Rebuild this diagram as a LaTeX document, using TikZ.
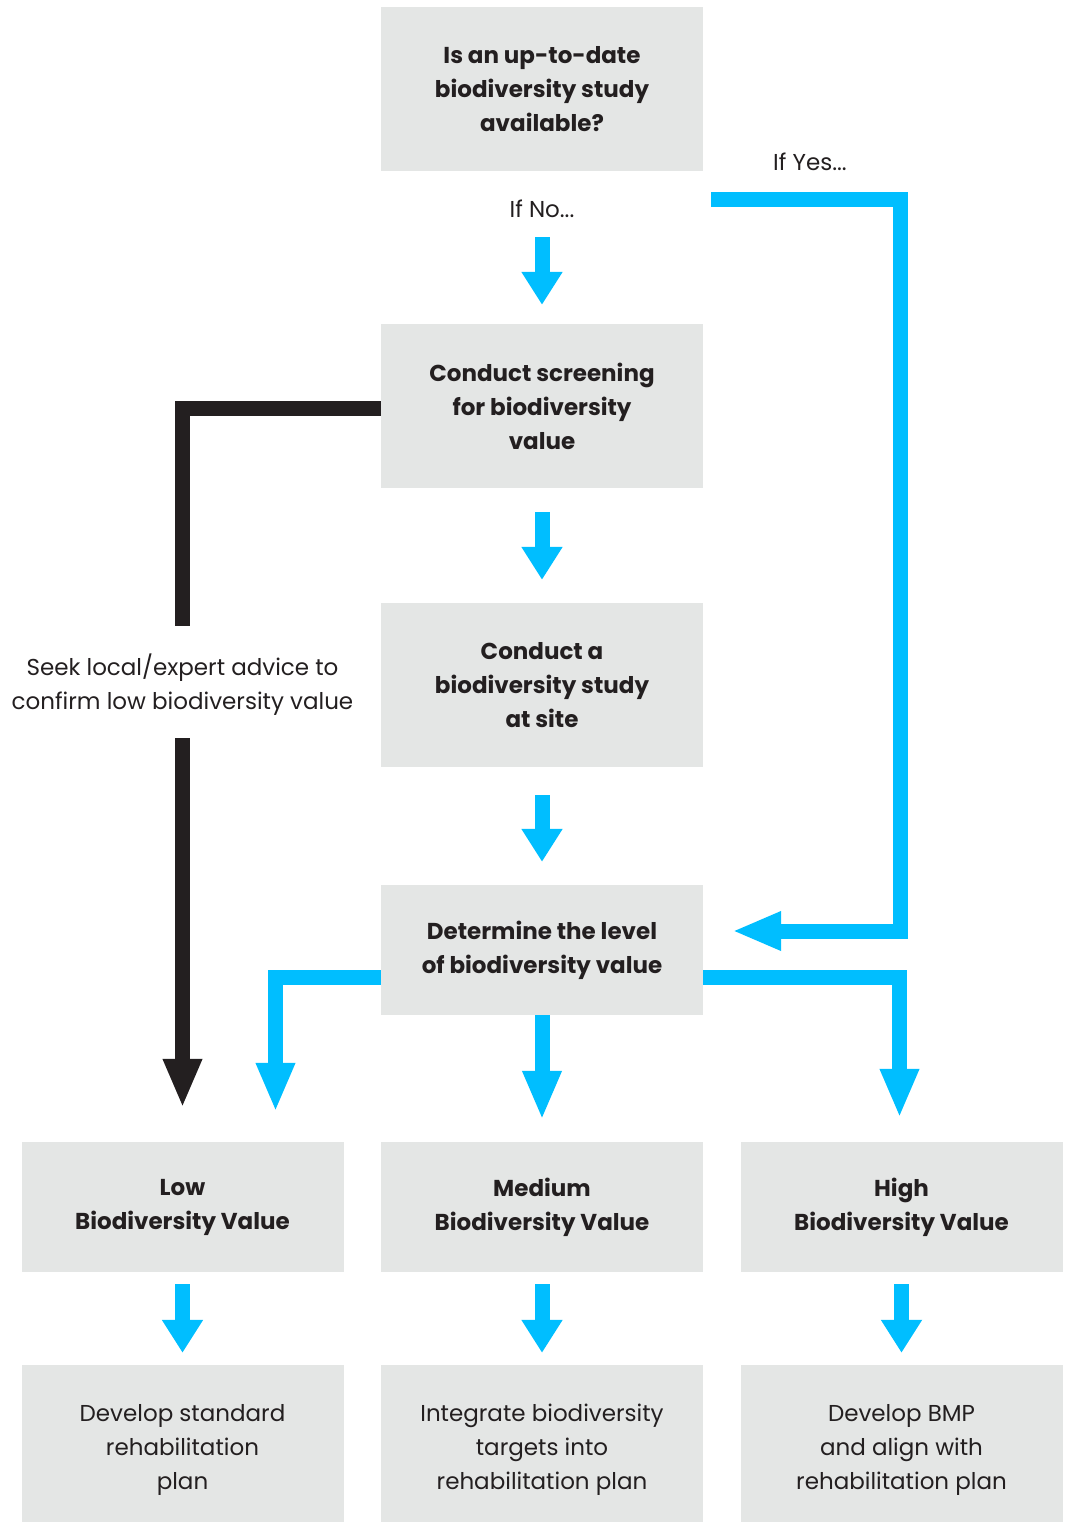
\documentclass[tikz,border=0pt]{standalone}
\usepackage{fontspec}
\setmainfont{Poppins}
\usetikzlibrary{arrows.meta}
\definecolor{boxgray}{RGB}{228,230,229}
\definecolor{flowblue}{RGB}{0,190,255}
\definecolor{ink}{RGB}{35,31,32}
\begin{document}
\begin{tikzpicture}[x=1pt,y=-1pt]
		\tikzstyle{every node}=[font=\fontsize{23}{34}\selectfont,text=ink,align=center];
		\tikzstyle{box}=[fill=boxgray,minimum width=322pt,minimum height=164pt,inner sep=0pt];
		\tikzstyle{bold}=[font=\fontsize{23}{34}\selectfont\bfseries];
		\tikzstyle{flow}=[line width=15pt,flowblue,-{Triangle[width=36pt,length=49pt]}];
		\tikzstyle{stub}=[line width=15pt,flowblue,-{Triangle[width=39pt,length=33pt]}];
		\useasboundingbox (0,0) rectangle (1070,1522);
		\node[box,bold] (q) at (542,89) {Is an up-to-date\\biodiversity study\\available?};
		\node[box,bold] (screen) at (542,406) {Conduct screening\\for biodiversity\\value};
		\node[box,bold] (study) at (542,685) {Conduct a\\biodiversity study\\at site};
		\node[box,bold,minimum height=130pt] (level) at (542,950) {Determine the level\\of biodiversity value};
		\node[box,bold,minimum height=130pt] (low) at (182.5,1207) {Low\\Biodiversity Value};
		\node[box,bold,minimum height=130pt] (med) at (542,1207) {Medium\\Biodiversity Value};
		\node[box,bold,minimum height=130pt] (high) at (901.5,1207) {High\\Biodiversity Value};
		\node[box,minimum height=170pt] (devlow) at (182.5,1450) {Develop standard\\rehabilitation\\plan};
		\node[box,minimum height=170pt] (devmed) at (542,1450) {Integrate biodiversity\\targets into\\rehabilitation plan};
		\node[box,minimum height=170pt] (devhigh) at (901.5,1450) {Develop BMP\\and align with\\rehabilitation plan};
		\node (ifno) at (542,209) {If No...};
		\node (ifyes) at (810,162) {If Yes...};
		\node (seek) at (182.5,685) {Seek local/expert advice to\\confirm low biodiversity value};
		\coordinate (yes0) at (711,200);
		\draw[stub] ([yshift=-66pt]q.south) -- ([yshift=19pt]screen.north);
		\draw[stub] ([yshift=-24pt]screen.south) -- ([yshift=23pt]study.north);
		\draw[stub] ([yshift=-28pt]study.south) -- ([yshift=23pt]level.north);
		\draw[stub] ([yshift=-12pt]low.south) -- ([yshift=12pt]devlow.north);
		\draw[stub] ([yshift=-12pt]med.south) -- ([yshift=12pt]devmed.north);
		\draw[stub] ([yshift=-12pt]high.south) -- ([yshift=12pt]devhigh.north);
		\draw[flow] (yes0) -| ([xshift=197pt,yshift=19pt]level.east) -- ([xshift=29pt,yshift=19pt]level.east);
		\draw[flow] ([yshift=-27pt]level.west) -| ([xshift=93pt,yshift=30pt]low.north);
		\draw[flow] (level.south) -- ([yshift=22pt]med.north);
		\draw[flow] ([yshift=-27pt]level.east) -| ([xshift=-2pt,yshift=24pt]high.north);
		\draw[line width=15pt,ink] ([yshift=-2.5pt]screen.west) -| ([yshift=59pt]seek.center);
		\draw[flow,ink] ([yshift=-53pt]seek.center) -- ([yshift=34pt]low.north);
\end{tikzpicture}
\end{document}
